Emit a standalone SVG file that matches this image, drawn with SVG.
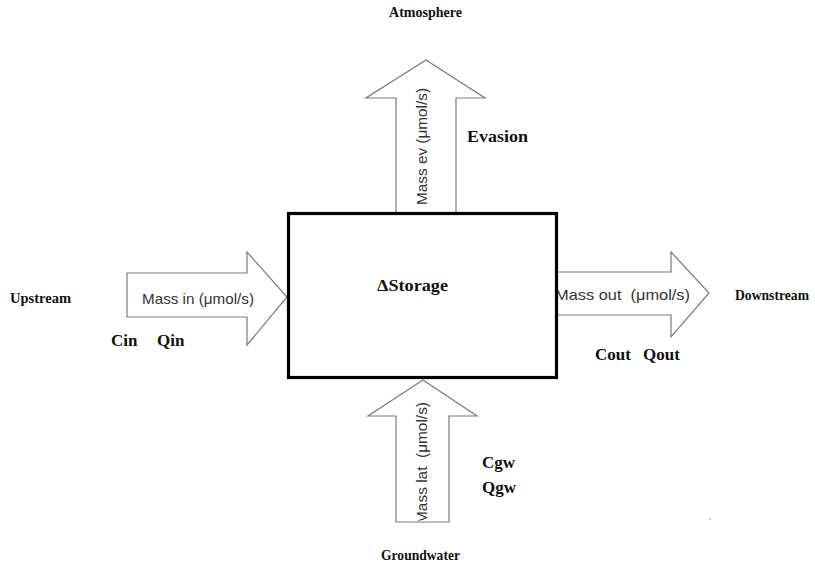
<svg xmlns="http://www.w3.org/2000/svg" width="815" height="571" viewBox="0 0 815 571">
<style>
.arrow{fill:#fff;stroke:#7a7a7a;stroke-width:1.2}
.box{fill:#fff;stroke:#000;stroke-width:3.2}
.lbl{font-family:"Liberation Sans",Arial,sans-serif;font-size:15px;fill:#333}
.place{font-family:"Liberation Serif","Times New Roman",serif;font-size:14px;font-weight:bold;fill:#111}
.var{font-family:"Liberation Serif","Times New Roman",serif;font-size:17px;font-weight:bold;fill:#111}
</style>
<defs>
<clipPath id="clipLat"><rect x="380" y="380" width="90" height="140.5"/></clipPath>
</defs>
<rect width="815" height="571" fill="#fff"/>
<g id="connectors">
<g id="arrow-evasion">
<polygon class="arrow" points="396,214 396,98 366,98 426,60 485,98 456,98 456,214"/>
<text class="lbl" transform="translate(427,205) rotate(-90)" textLength="117" lengthAdjust="spacingAndGlyphs">Mass ev (μmol/s)</text>
</g>
<g id="arrow-in">
<polygon class="arrow" points="127,273 247,273 247,252 287,297 247,345 247,317 127,317"/>
<text class="lbl" x="142" y="304" textLength="112" lengthAdjust="spacingAndGlyphs">Mass in (μmol/s)</text>
</g>
<g id="arrow-out">
<polygon class="arrow" points="557,272 671,272 671,252 709,293 671,337 671,315 557,315"/>
<text class="lbl" x="555" y="299.5" textLength="135" lengthAdjust="spacingAndGlyphs" xml:space="preserve">Mass out  (μmol/s)</text>
</g>
<g id="arrow-lat">
<polygon class="arrow" points="396,522 396,416 368,416 423,380 477,416 449,416 449,522"/>
<g clip-path="url(#clipLat)">
<text class="lbl" transform="translate(427,524) rotate(-90)" textLength="122" lengthAdjust="spacingAndGlyphs" xml:space="preserve">Mass lat  (μmol/s)</text>
</g>
</g>
</g>
<g id="storage">
<rect class="box" x="288.5" y="213.5" width="268" height="164"/>
<text class="var" x="377" y="291" textLength="71" lengthAdjust="spacingAndGlyphs">ΔStorage</text>
</g>
<g id="atmosphere"><text class="place" x="389" y="17" textLength="73" lengthAdjust="spacingAndGlyphs">Atmosphere</text></g>
<g id="upstream"><text class="place" x="10" y="303" textLength="61" lengthAdjust="spacingAndGlyphs">Upstream</text></g>
<g id="downstream"><text class="place" x="735" y="300" textLength="74" lengthAdjust="spacingAndGlyphs">Downstream</text></g>
<g id="groundwater"><text class="place" x="381" y="560" textLength="79" lengthAdjust="spacingAndGlyphs">Groundwater</text></g>
<g id="evasion"><text class="var" x="467" y="142" textLength="61" lengthAdjust="spacingAndGlyphs">Evasion</text></g>
<g id="cin-qin"><text class="var" x="111" y="346">Cin</text><text class="var" x="157" y="346">Qin</text></g>
<g id="cout-qout"><text class="var" x="595" y="360">Cout</text><text class="var" x="643" y="360">Qout</text></g>
<g id="cgw-qgw"><text class="var" x="482" y="468">Cgw</text><text class="var" x="482" y="493">Qgw</text></g>
<circle cx="710" cy="519" r="0.8" fill="#999"/>
</svg>
